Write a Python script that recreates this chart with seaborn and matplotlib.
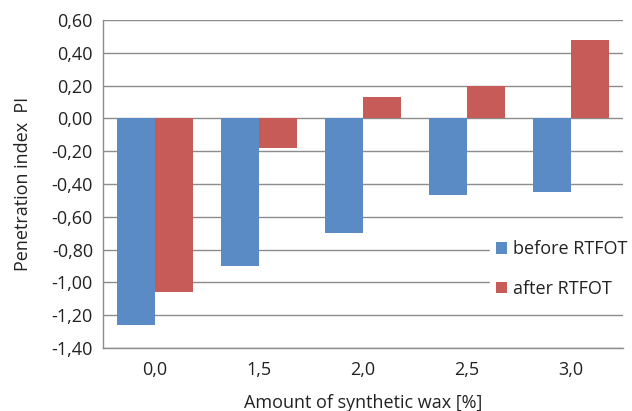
import matplotlib
matplotlib.use("Agg")
import matplotlib.pyplot as plt
import seaborn as sns
import pandas as pd
from matplotlib.patches import Patch
from matplotlib.ticker import FuncFormatter, MultipleLocator

# Penetration index of binder vs. synthetic wax content
wax_amount = ["0,0", "1,5", "2,0", "2,5", "3,0"]
before_rtfot = [-1.26, -0.90, -0.70, -0.47, -0.45]
after_rtfot = [-1.06, -0.18, 0.13, 0.20, 0.48]
series_names = ["before RTFOT", "after RTFOT"]
colors = ["#5B8BC5", "#C65B58"]

df = pd.DataFrame({
    "wax": wax_amount * 2,
    "PI": before_rtfot + after_rtfot,
    "series": [series_names[0]] * len(wax_amount) + [series_names[1]] * len(wax_amount),
})

sns.set_theme(style="white")
plt.rcParams["font.family"] = ["Open Sans", "DejaVu Sans"]

FS = 13

fig = plt.figure(figsize=(6.32, 4.11), dpi=100)
ax = fig.add_axes([102.7 / 632, 1 - 348 / 411, (623 - 102.7) / 632, (348 - 20) / 411])

sns.barplot(data=df, x="wax", y="PI", hue="series", palette=colors,
            width=0.726, gap=0, ax=ax, legend=False, saturation=1,
            linewidth=0, zorder=3)

ax.set_ylim(-1.40, 0.60)
ax.set_xlim(-0.5, len(wax_amount) - 0.5)
ax.yaxis.set_major_locator(MultipleLocator(0.2))
ax.yaxis.set_major_formatter(FuncFormatter(lambda v, p: f"{v:.2f}".replace(".", ",").replace("-0,00", "0,00")))
ax.grid(axis="y", color="#8C8C8C", linewidth=1, zorder=0)
ax.set_axisbelow(True)

for side in ["top", "right"]:
    ax.spines[side].set_visible(False)
for side in ["left", "bottom"]:
    ax.spines[side].set_color("#8C8C8C")
    ax.spines[side].set_linewidth(1)

ax.tick_params(axis="both", length=0, labelsize=FS, colors="#222222")
ax.tick_params(axis="y", pad=7)
ax.tick_params(axis="x", pad=9)

ax.set_xlabel("Amount of synthetic wax [%]", fontsize=FS, color="#222222", labelpad=11)
ax.set_ylabel("Penetration index  PI", fontsize=FS, color="#222222", labelpad=14)

handles = [Patch(facecolor=c, edgecolor="none") for c in colors]
leg = fig.legend(handles, series_names, loc="center left",
                 bbox_to_anchor=(490 / 632, 1 - 269 / 411),
                 frameon=True, facecolor="white", edgecolor="white", framealpha=1,
                 fontsize=FS, handlelength=0.6, handleheight=0.6,
                 handletextpad=0.35, labelspacing=1.2, borderpad=0.35,
                 borderaxespad=0)
for t in leg.get_texts():
    t.set_color("#222222")

fig.savefig("out.png", dpi=100)
